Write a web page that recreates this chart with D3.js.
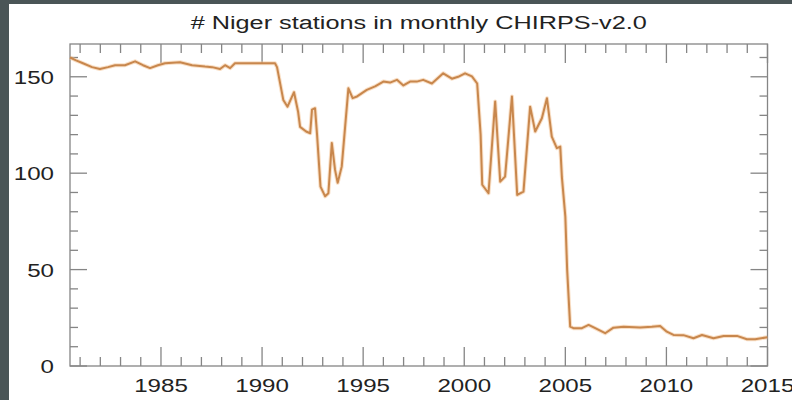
<!DOCTYPE html>
<html>
<head>
<meta charset="utf-8">
<script src="https://cdn.jsdelivr.net/npm/d3@7"></script>
<style>
  body { margin: 0; background: #4a5557; }
  svg { display: block; }
  text { font-family: "Liberation Sans", Arial, sans-serif; fill: #222; }
</style>
</head>
<body>
<div id="chart"></div>
<script>
// station counts (decimal year, # stations)
var years = [1980.50, 1980.80, 1981.14, 1981.59, 1981.98, 1982.38, 1982.73, 1983.22, 1983.72, 1984.11,
    1984.46, 1984.85, 1985.20, 1985.94, 1986.54, 1987.18, 1987.53, 1987.92, 1988.17, 1988.42,
    1988.66, 1989.65, 1990.64, 1990.74, 1991.05, 1991.26, 1991.58, 1991.78, 1991.88, 1992.18,
    1992.38, 1992.47, 1992.62, 1992.72, 1992.89, 1993.12, 1993.28, 1993.45, 1993.61, 1993.74,
    1993.94, 1994.27, 1994.48, 1994.70, 1995.18, 1995.59, 1996.00, 1996.33, 1996.67, 1996.99,
    1997.32, 1997.65, 1997.97, 1998.40, 1998.66, 1998.96, 1999.39, 1999.70, 2000.04, 2000.38,
    2000.64, 2000.81, 2000.89, 2001.20, 2001.53, 2001.78, 2002.02, 2002.36, 2002.62, 2002.93,
    2003.26, 2003.51, 2003.84, 2004.09, 2004.33, 2004.58, 2004.75, 2004.83, 2005.00, 2005.09,
    2005.24, 2005.40, 2005.82, 2006.15, 2006.48, 2006.97, 2007.38, 2007.88, 2008.70, 2009.28,
    2009.69, 2010.02, 2010.35, 2010.84, 2011.34, 2011.76, 2012.33, 2012.83, 2013.49, 2013.98,
    2014.39, 2014.99];
var stations = [160, 158.5, 157, 155, 154, 155, 156, 156, 158, 156,
    154.5, 156, 157, 157.5, 156, 155.3, 155, 154, 156, 154.5,
    157, 157, 157, 155, 138, 134.5, 142, 132, 124, 121.6,
    120.7, 133, 133.7, 120, 93, 88, 89.6, 115.6, 101.7, 95,
    103.4, 144, 138.9, 139.8, 143.2, 145, 147.5, 147, 148.4, 145.5,
    147.5, 147.5, 148.4, 146.5, 149, 151.8, 149, 150, 151.8, 150.2,
    146.5, 120, 94, 89.6, 137.2, 95.6, 98.2, 139.8, 88.7, 90.4,
    134.5, 121.6, 128.5, 138.9, 119, 113, 113.8, 98, 77.5, 50,
    20.4, 19.6, 19.6, 21.3, 19.6, 17, 19.9, 20.4, 20, 20.4,
    20.8, 17.8, 16.1, 16, 14.4, 16.1, 14.4, 15.6, 15.6, 13.9,
    13.9, 14.9];

var xMajor = [1985, 1990, 1995, 2000, 2005, 2010, 2015];
var yMajor = [0, 50, 100, 150];
var title = '# Niger stations in monthly CHIRPS-v2.0';

var width = 792, height = 400;
var plotL = 70, plotR = 767.5, plotT = 44, plotB = 366;
var stretch = 1.27; // the labels in the original are wide

var svg = d3.select('#chart').append('svg')
    .attr('width', width)
    .attr('height', height);

// dark border on the left and top, white page
svg.append('rect').attr('width', width).attr('height', height).attr('fill', '#4a5557');
svg.append('rect').attr('x', 9).attr('y', 4).attr('width', width - 9).attr('height', height - 4).attr('fill', '#fff');

var x = d3.scaleLinear().domain([1980.5, 2015]).range([plotL, plotR]);
var y = d3.scaleLinear().domain([0, 167]).range([plotB, plotT]);

var xMinor = d3.range(1981, 2016).filter(function (d) { return xMajor.indexOf(d) < 0; });
var yMinor = d3.range(0, 167, 10).filter(function (d) { return yMajor.indexOf(d) < 0; });

var axisColor = '#858585';
var g = svg.append('g').attr('stroke', axisColor).attr('stroke-width', 1.3);

// frame
g.append('rect')
    .attr('x', plotL).attr('y', plotT)
    .attr('width', plotR - plotL).attr('height', plotB - plotT)
    .attr('fill', 'none');

function xTicks(vals, len) {
    g.selectAll(null).data(vals).enter().append('line')
        .attr('x1', d => x(d)).attr('x2', d => x(d))
        .attr('y1', plotB).attr('y2', plotB - len);
    g.selectAll(null).data(vals).enter().append('line')
        .attr('x1', d => x(d)).attr('x2', d => x(d))
        .attr('y1', plotT).attr('y2', plotT + len);
}
function yTicks(vals, len) {
    g.selectAll(null).data(vals).enter().append('line')
        .attr('y1', d => y(d)).attr('y2', d => y(d))
        .attr('x1', plotL).attr('x2', plotL + len);
    g.selectAll(null).data(vals).enter().append('line')
        .attr('y1', d => y(d)).attr('y2', d => y(d))
        .attr('x1', plotR).attr('x2', plotR - len);
}
xTicks(xMajor, 19);
xTicks(xMinor, 9);
yTicks(yMajor, 17);
yTicks(yMinor, 8);

// tick labels
svg.selectAll('text.xl').data(xMajor).enter().append('text')
    .attr('class', 'xl')
    .attr('text-anchor', 'middle')
    .attr('font-size', 19)
    .attr('transform', d => 'translate(' + x(d) + ',392) scale(' + stretch + ',1)')
    .text(d => d);

svg.selectAll('text.yl').data(yMajor).enter().append('text')
    .attr('class', 'yl')
    .attr('text-anchor', 'end')
    .attr('font-size', 19)
    .attr('transform', d => 'translate(54,' + (y(d) + 7) + ') scale(' + stretch + ',1)')
    .text(d => d);

svg.append('text')
    .attr('text-anchor', 'middle')
    .attr('font-size', 19)
    .attr('transform', 'translate(' + ((plotL + plotR) / 2) + ',29) scale(1.33,1)')
    .text(title);

// the series
var line = d3.line()
    .x(function (d, i) { return x(years[i]); })
    .y(function (d) { return y(d); });

svg.append('path')
    .datum(stations)
    .attr('fill', 'none')
    .attr('stroke', '#f3c08e')
    .attr('stroke-opacity', 0.5)
    .attr('stroke-width', 4)
    .attr('stroke-linejoin', 'round')
    .attr('d', line);

svg.append('path')
    .datum(stations)
    .attr('fill', 'none')
    .attr('stroke', '#c8874d')
    .attr('stroke-width', 2)
    .attr('stroke-linejoin', 'round')
    .attr('d', line);
</script>
</body>
</html>
